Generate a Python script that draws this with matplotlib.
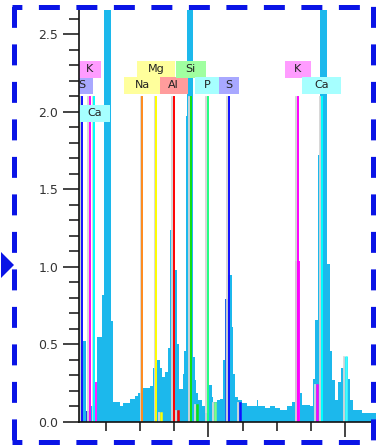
import matplotlib
matplotlib.use("Agg")
import matplotlib.pyplot as plt
import matplotlib.transforms as mtransforms
from matplotlib.patches import Rectangle, Polygon
from matplotlib.lines import Line2D
from matplotlib.ticker import MultipleLocator
import numpy as np

plt.rcParams['lines.scale_dashes'] = False
plt.rcParams['font.family'] = ['DejaVu Sans']

# ---------------- data ----------------
# spectrum (step histogram): bin edges in keV and heights
edges = [0.10, 0.163, 0.207, 0.251, 0.310, 0.339, 0.368, 0.441, 0.471, 0.573,
         0.602, 0.705, 0.749, 0.851, 0.925, 0.969, 1.012, 1.042, 1.144, 1.188,
         1.217, 1.247, 1.291, 1.320, 1.364, 1.408, 1.437, 1.481, 1.540, 1.569,
         1.627, 1.642, 1.671, 1.686, 1.774, 1.803, 1.818, 1.847, 1.906, 1.949,
         1.993, 2.052, 2.066, 2.125, 2.169, 2.213, 2.242, 2.286, 2.345, 2.359,
         2.389, 2.433, 2.491, 2.564, 2.711, 2.726, 2.828, 2.901, 2.974, 3.048,
         3.150, 3.223, 3.267, 3.340, 3.370, 3.487, 3.531, 3.560, 3.604, 3.633,
         3.736, 3.780, 3.809, 3.853, 3.897, 3.941, 3.985, 4.043, 4.072, 4.116,
         4.248, 4.50]
counts = [0.31, 0.52, 0.07, 0.10, 0.10, 0.26, 0.55, 0.82, 2.90, 0.65,
          0.13, 0.10, 0.12, 0.15, 0.17, 0.19, 0.20, 0.22, 0.23, 0.35,
          0.38, 0.40, 0.35, 0.29, 0.32, 0.48, 1.24, 0.98, 0.50, 0.21,
          0.31, 0.46, 1.97, 2.90, 0.42, 0.27, 0.19, 0.14, 0.10, 0.06,
          0.24, 0.16, 0.13, 0.14, 0.15, 0.40, 0.79, 0.95, 0.61, 0.31,
          0.16, 0.14, 0.12, 0.10, 0.14, 0.10, 0.09, 0.10, 0.09, 0.08,
          0.10, 0.13, 1.04, 0.19, 0.11, 0.10, 0.28, 0.66, 1.72, 2.90,
          1.02, 0.46, 0.27, 0.14, 0.26, 0.35, 0.42, 0.28, 0.14, 0.08,
          0.06]
assert len(edges) == len(counts) + 1

# spectrum channels highlighted in an element colour: (lo, hi, height, colour)
hl_lo = [0.10, 0.207, 0.339, 2.24, 3.267]
hl_hi = [0.163, 0.251, 0.368, 2.29, 3.340]
hl_h = [0.31, 0.07, 0.26, 0.79, 1.04]
hl_col = ['#8CF5A0', '#2A3CE0', '#FF22FF', '#2266EE', '#FF10FF']

# labelled element lines
el_names = ['S', 'K', 'Ca', 'Na', 'Mg', 'Al', 'Si', 'P', 'S', 'K', 'Ca']
el_energy = [0.15, 0.26, 0.33, 1.03, 1.235, 1.49, 1.74, 1.99, 2.30, 3.31, 3.66]
el_color = ['#1010FF', '#FF00FF', '#00FFFF', '#FF8A1C', '#FFFF00', '#FF0000',
            '#10E010', '#20FF80', '#1010FF', '#FF00FF', '#00FFFF']
el_box = ['#A8A8FF', '#FF9CFF', '#A6FFFF', '#FFFF9C', '#FFFF9C', '#FF9C9C',
          '#A0FFA0', '#A6FFFF', '#A8A8FF', '#FF9CFF', '#A6FFFF']
el_row = [1, 0, 2, 1, 0, 1, 0, 1, 1, 0, 1]
el_boxw = [22, 22, 31, 37, 38, 28, 30, 26, 20, 26, 39]   # px

# unlabelled extra line near the axis
extra_energy = [0.125]
extra_color = ['#10A010']

# secondary (K-beta) markers: energy, height, colour
kb_energy = [1.30, 1.555, 1.83, 2.10, 2.46, 3.59, 4.01]
kb_height = [0.06, 0.07, 0.11, 0.12, 0.12, 0.24, 0.42]
kb_color = ['#FFFF00', '#FF0000', '#10E010', '#80FF80', '#1010FF', '#FF00FF', '#40FFFF']

ytick_vals = [0.0, 0.5, 1.0, 1.5, 2.0, 2.5]
ytick_labels = ['0.0', '0.5', '1.0', '1.5', '2.0', '2.5']

# ---------------- figure ----------------
W, H = 376, 445
fig = plt.figure(figsize=(W / 100, H / 100), dpi=100)
fig.patch.set_facecolor('white')
ax = fig.add_axes([79 / W, (H - 422) / H, (376 - 79) / W, 412 / H])
ax.set_xlim(0.105, 4.455)
ax.set_ylim(0, 2.655)

SPEC = '#1CB8EC'
ax.stairs(counts, edges, fill=True, color=SPEC, lw=0, zorder=2)
for lo, hi, h, c in zip(hl_lo, hl_hi, hl_h, hl_col):
    ax.bar(lo, h, width=hi - lo, align='edge', color=c, lw=0, zorder=2.5)

xt = ax.get_xaxis_transform()
shadow_t = xt + mtransforms.ScaledTranslation(-1.6 / 100, 0, fig.dpi_scale_trans)
dshadow_t = ax.transData + mtransforms.ScaledTranslation(-1.8 / 100, 0, fig.dpi_scale_trans)

LINE_TOP = (422 - 97) / 412
row_bottom = [(422 - 78) / 412, (422 - 94) / 412, (422 - 122) / 412]
row_h = 17 / 412
px_per_kev = 68.3

for e, c in zip(extra_energy, extra_color):
    ax.add_line(Line2D([e, e], [0, LINE_TOP], transform=xt, color=c, lw=1.3, zorder=3))

for e, c in zip(el_energy, el_color):
    ax.add_line(Line2D([e, e], [0, LINE_TOP], transform=shadow_t, color='#D4D4D4', lw=1.3, zorder=3))
    ax.add_line(Line2D([e, e], [0, LINE_TOP], transform=xt, color=c, lw=1.4, zorder=3.2))

for e, h, c in zip(kb_energy, kb_height, kb_color):
    ax.add_line(Line2D([e, e], [0, h], transform=dshadow_t, color='#D8D8D8', lw=1.3, zorder=3))
    ax.add_line(Line2D([e, e], [0, h], color=c, lw=1.8, zorder=3.2))

for name, e, bc, r, wpx in zip(el_names, el_energy, el_box, el_row, el_boxw):
    w = wpx / px_per_kev
    rect = Rectangle((e - w / 2, row_bottom[r]), w, row_h, transform=xt,
                     facecolor=bc, edgecolor='none', zorder=5, clip_on=True)
    ax.add_patch(rect)
    ax.text(e, row_bottom[r] + row_h / 2, name, transform=xt, ha='center', va='center',
            fontsize=8, color='#222222', zorder=6)

# axes styling
for s in ['top', 'right']:
    ax.spines[s].set_visible(False)
for s in ['left', 'bottom']:
    ax.spines[s].set_linewidth(1.2)
    ax.spines[s].set_color('#111111')
    ax.spines[s].set_zorder(7)

ax.set_yticks(ytick_vals)
ax.set_yticklabels(ytick_labels)
ax.yaxis.set_minor_locator(MultipleLocator(0.1))
ax.tick_params(axis='y', which='major', length=11.5, width=1.1, pad=3.5,
               labelsize=9, color='#111111', labelcolor='#333333')
ax.tick_params(axis='y', which='minor', length=7.2, width=1.1, color='#111111')
ax.set_xticks([2.0, 4.0])
ax.set_xticklabels(['', ''])
ax.xaxis.set_minor_locator(MultipleLocator(0.5))
ax.tick_params(axis='x', which='major', length=11, width=1.1, color='#111111')
ax.tick_params(axis='x', which='minor', length=6.5, width=1.1, color='#111111')

# dashed focus border
def fx(px):
    return px / W

def fy(py):
    return 1 - py / H

BL, BR, BT, BB = 13.5, 372.5, 7.0, 441.5
DASH = (15.1, 11.9)
border_kw = dict(transform=fig.transFigure, color='#0A14E6', lw=3.6, solid_capstyle='butt',
                 dash_capstyle='butt', zorder=20)
fig.add_artist(Line2D([fx(BL - 1.5), fx(BR + 1.5)], [fy(BT), fy(BT)], linestyle=(8, DASH), **border_kw))
fig.add_artist(Line2D([fx(BL - 1.5), fx(BR + 1.5)], [fy(BB), fy(BB)], linestyle=(8, DASH), **border_kw))
fig.add_artist(Line2D([fx(BL), fx(BL)], [fy(BT - 2), fy(BB + 1.5)], linestyle=(-1, DASH), **border_kw))
fig.add_artist(Line2D([fx(BR), fx(BR)], [fy(BT - 2), fy(BB + 1.5)], linestyle=(-1, DASH), **border_kw))
fig.add_artist(Polygon([(fx(1), fy(252)), (fx(1), fy(278)), (fx(14), fy(265))],
                       closed=True, transform=fig.transFigure, facecolor='#0A14E6',
                       edgecolor='none', zorder=21))

fig.savefig('out.png', dpi=100)
